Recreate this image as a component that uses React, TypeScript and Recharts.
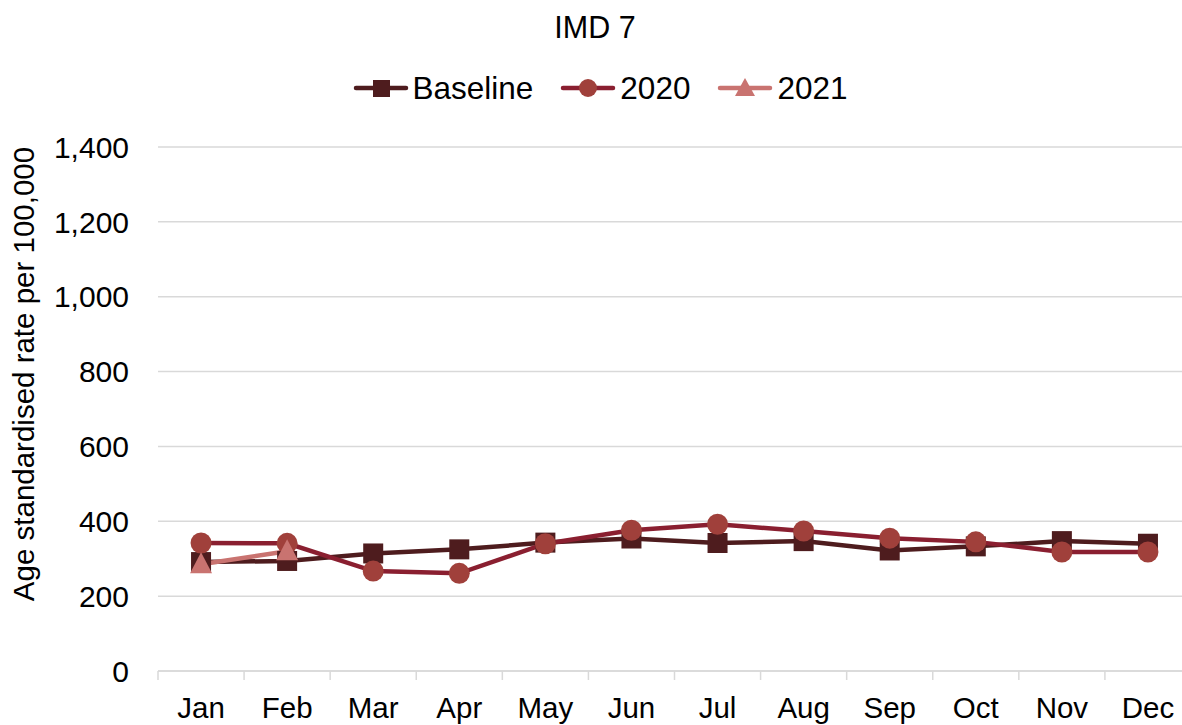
import React from "react";
import {
  LineChart,
  Line,
  XAxis,
  YAxis,
  CartesianGrid,
  Legend,
} from "recharts";

const months = ["Jan", "Feb", "Mar", "Apr", "May", "Jun", "Jul", "Aug", "Sep", "Oct", "Nov", "Dec"];
const baseline = [291, 294, 314, 325, 343, 354, 342, 347, 322, 333, 347, 340];
const y2020 = [342, 341, 267, 261, 340, 376, 392, 374, 355, 345, 318, 318];
const y2021 = [285, 320, null, null, null, null, null, null, null, null, null, null];
const yTicks = [0, 200, 400, 600, 800, 1000, 1200, 1400];

const data = months.map((m, i) => ({
  month: m,
  baseline: baseline[i],
  y2020: y2020[i],
  y2021: y2021[i],
}));

const FONT = "'Liberation Sans', Arial, sans-serif";
const C_BASE = "#4E1C1E";
const C_2020_LINE = "#8A1F30";
const C_2020_DOT = "#A0403B";
const C_2021 = "#C97370";

const SquareDot = (props: any) => {
  const { cx, cy, index } = props;
  if (cx == null || cy == null) return <g key={`s-${index}`} />;
  return <rect key={`s-${index}`} x={cx - 10} y={cy - 10} width={20} height={20} fill={C_BASE} />;
};

const CircleDot = (props: any) => {
  const { cx, cy, index } = props;
  if (cx == null || cy == null) return <g key={`c-${index}`} />;
  return <circle key={`c-${index}`} cx={cx} cy={cy} r={10.5} fill={C_2020_DOT} />;
};

const TriangleDot = (props: any) => {
  const { cx, cy, index, value } = props;
  if (cx == null || cy == null || value == null) return <g key={`t-${index}`} />;
  return (
    <polygon
      key={`t-${index}`}
      points={`${cx},${cy - 12} ${cx + 11},${cy + 9} ${cx - 11},${cy + 9}`}
      fill={C_2021}
    />
  );
};

const MonthTick = (props: any) => {
  const { x, y, payload } = props;
  const half = payload && payload.offset ? payload.offset : 43;
  return (
    <g>
      <line x1={x - half} x2={x - half} y1={y - 27} y2={y - 18} stroke="#d9d9d9" strokeWidth={1.5} />
      <text x={x} y={y} dy={20} textAnchor="middle" fontSize={29.5} fontFamily={FONT} fill="#000">
        {payload.value}
      </text>
    </g>
  );
};

const legendItems = [
  { name: "Baseline", line: C_BASE, marker: "square" },
  { name: "2020", line: C_2020_LINE, marker: "circle" },
  { name: "2021", line: C_2021, marker: "triangle" },
];

const LegendContent = () => (
  <div style={{ display: "flex", justifyContent: "center", alignItems: "center", fontFamily: FONT, fontSize: 31.5, lineHeight: "34px" }}>
    {legendItems.map((it, i) => (
      <div key={it.name} style={{ display: "flex", alignItems: "center", marginLeft: i === 0 ? 0 : 27 }}>
        <svg width={56} height={26} style={{ marginRight: 4 }}>
          <line x1={3} x2={53} y1={13} y2={13} stroke={it.line} strokeWidth={4.5} strokeLinecap="round" />
          {it.marker === "square" && <rect x={20} y={5} width={17} height={17} fill={C_BASE} />}
          {it.marker === "circle" && <circle cx={28} cy={13} r={9} fill={C_2020_DOT} />}
          {it.marker === "triangle" && <polygon points="28,3 38,21 18,21" fill={C_2021} />}
        </svg>
        <span style={{ color: "#000" }}>{it.name}</span>
      </div>
    ))}
  </div>
);

export default function App() {
  return (
    <div style={{ position: "fixed", left: 0, top: 0, width: 1182, height: 725, overflow: "hidden", background: "#fff" }}>
      <div
        style={{
          position: "absolute",
          top: 11,
          left: 0,
          width: 1190,
          textAlign: "center",
          fontFamily: FONT,
          fontSize: 30.5,
          lineHeight: "32px",
          color: "#000",
        }}
      >
        IMD 7
      </div>
      <LineChart width={1200} height={725} data={data} margin={{ top: 113, right: 9, bottom: 0, left: 0 }}>
        <CartesianGrid vertical={false} stroke="#d9d9d9" strokeWidth={1.5} />
        <XAxis
          dataKey="month"
          scale="band"
          height={54}
          axisLine={{ stroke: "#d9d9d9", strokeWidth: 1.5 }}
          tickLine={false}
          tickSize={9}
          tickMargin={18}
          interval={0}
          tick={<MonthTick />}
        />
        <YAxis
          width={158}
          domain={[0, 1400]}
          ticks={yTicks}
          axisLine={false}
          tickLine={false}
          tickMargin={23}
          tick={{ fontSize: 30, fontFamily: FONT, fill: "#000" }}
          tickFormatter={(v: number) => v.toLocaleString("en-US")}
          label={{
            content: () => (
              <text
                x={0}
                y={0}
                transform="translate(34,374) rotate(-90)"
                textAnchor="middle"
                fontSize={29.5}
                fontFamily={FONT}
                fill="#000"
              >
                Age standardised rate per 100,000
              </text>
            ),
          }}
        />
        <Legend verticalAlign="top" wrapperStyle={{ top: 71, left: 0, width: 1200 }} content={<LegendContent />} />
        <Line
          dataKey="baseline"
          name="Baseline"
          stroke={C_BASE}
          strokeWidth={4.5}
          dot={SquareDot}
          activeDot={false}
          isAnimationActive={false}
        />
        <Line
          dataKey="y2020"
          name="2020"
          stroke={C_2020_LINE}
          strokeWidth={4.5}
          dot={CircleDot}
          activeDot={false}
          isAnimationActive={false}
        />
        <Line
          dataKey="y2021"
          name="2021"
          stroke={C_2021}
          strokeWidth={4.5}
          dot={TriangleDot}
          activeDot={false}
          isAnimationActive={false}
        />
      </LineChart>
    </div>
  );
}
